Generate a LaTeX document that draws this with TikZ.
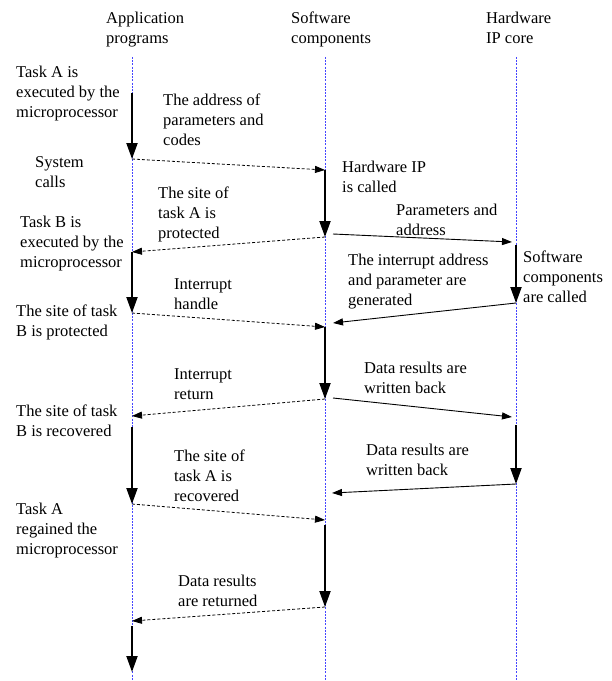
\documentclass[tikz,border=0pt]{standalone}
\usepackage{fontspec}
\setmainfont{Liberation Serif}
\usepackage{tikz}
\usetikzlibrary{arrows.meta}

\definecolor{lifeblue}{RGB}{70,70,255}

\tikzset{
  lifeline/.style={lifeblue,line width=0.7pt,dash pattern=on 2pt off 1.2pt},
  activ/.style={line width=2pt,-{Triangle[length=16pt,width=11pt]}},
  callmsg/.style={line width=0.8pt,dash pattern=on 3pt off 2pt,-{Triangle[length=10pt,width=7pt]}},
  datamsg/.style={line width=0.9pt,-{Triangle[length=10pt,width=7pt]}},
  lbl/.style={anchor=north west,inner sep=0pt,align=left,font=\fontsize{16.5}{20}\selectfont}
}

\begin{document}
\begin{tikzpicture}[x=1pt,y=-1pt]
    \useasboundingbox (0,0) rectangle (612,681);

    % lifelines
    \node[lbl] (appHead) at (106,12) {Application\\programs};
    \node[lbl] (swHead)  at (291,12) {Software\\components};
    \node[lbl] (hwHead)  at (486,12) {Hardware\\IP core};
    \foreach \n/\x in {app/132,sw/325,hw/516} {
        \coordinate (\n Top) at (\x,57);
        \coordinate (\n Bot) at (\x,681);
        \draw[lifeline] (\n Top) -- (\n Bot);
    }

    % activation arrows
    \foreach \n/\x/\a/\b in {a1/132/93/159, a2/132/252/313, a3/132/427/504, a4/132/626/672,
                             s1/325/170/237, s2/325/327/399, s3/325/525/607,
                             h1/516/245/303, h2/516/425/484} {
        \coordinate (\n top) at (\x,\a);
        \coordinate (\n bot) at (\x,\b);
        \draw[activ] (\n top) -- (\n bot);
    }

    % free ends of the messages
    \coordinate (m3s) at (333,234);
    \coordinate (m3e) at (512,242);
    \coordinate (m4e) at (333,323);
    \coordinate (m6e) at (132,416);
    \coordinate (m7s) at (333,398);
    \coordinate (m7e) at (512,417);
    \coordinate (m8e) at (332,493);
    \coordinate (m9e) at (325,520);
    \coordinate (m10e) at (132,621);

    % messages
    \draw[callmsg] (a1bot) -- (s1top);
    \draw[callmsg] (s1bot) -- (a2top);
    \draw[datamsg] (m3s) -- (m3e);
    \draw[datamsg] (h1bot) -- (m4e);
    \draw[callmsg] (a2bot) -- (s2top);
    \draw[callmsg] (s2bot) -- (m6e);
    \draw[datamsg] (m7s) -- (m7e);
    \draw[datamsg] (h2bot) -- (m8e);
    \draw[callmsg] (a3bot) -- (m9e);
    \draw[callmsg] (s3bot) -- (m10e);

    % left column
    \node[lbl] (taskA)    at (16,66)  {Task A is\\executed by the\\microprocessor};
    \node[lbl] (sysCall)  at (35,156) {System\\calls};
    \node[lbl] (taskB)    at (20,216) {Task B is\\executed by the\\microprocessor};
    \node[lbl] (siteBPro) at (16,305) {The site of task\\B is protected};
    \node[lbl] (siteBRec) at (16,405) {The site of task\\B is recovered};
    \node[lbl] (taskAReg) at (16,503) {Task A\\regained the\\microprocessor};

    % between application and software
    \node[lbl] (addrPar)  at (163,94)  {The address of\\parameters and\\codes};
    \node[lbl] (siteAPro) at (158,187) {The site of\\task A is\\protected};
    \node[lbl] (intHand)  at (174,278) {Interrupt\\handle};
    \node[lbl] (intRet)   at (174,368) {Interrupt\\return};
    \node[lbl] (siteARec) at (174,450) {The site of\\task A is\\recovered};
    \node[lbl] (dataRet)  at (178,575) {Data results\\are returned};

    % between software and hardware
    \node[lbl] (hwCall)   at (342,161) {Hardware IP\\is called};
    \node[lbl] (parAddr)  at (396,204) {Parameters and\\address};
    \node[lbl] (intAddr)  at (348,254) {The interrupt address\\and parameter are\\generated};
    \node[lbl] (dataWbA)  at (364,362) {Data results are\\written back};
    \node[lbl] (dataWbB)  at (366,444) {Data results are\\written back};
    \node[lbl] (swCall)   at (523,251) {Software\\components\\are called};
\end{tikzpicture}
\end{document}
